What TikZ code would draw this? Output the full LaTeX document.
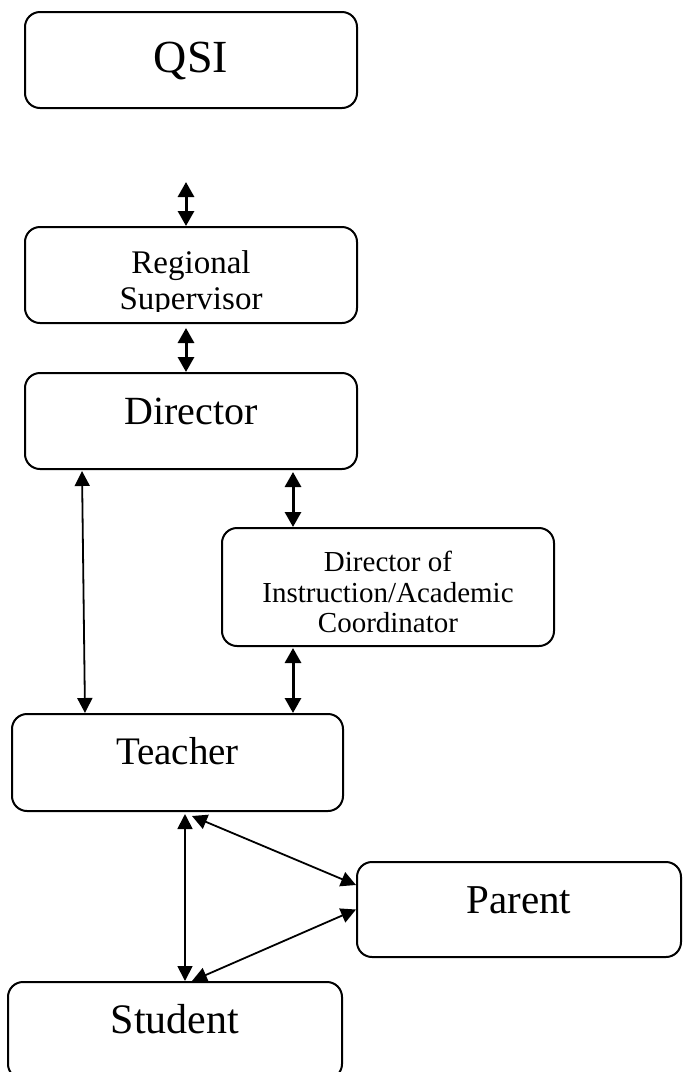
\documentclass[tikz,border=0pt]{standalone}
\usepackage{fontspec}
\setmainfont{Liberation Serif}
\usetikzlibrary{arrows.meta}
\begin{document}
\begin{tikzpicture}[x=1pt,y=-1pt,>={Triangle[length=15pt,width=15pt]}]
\tikzstyle{every node}+=[inner sep=0pt]
\tikzstyle{box}=[draw,line width=2pt,rounded corners=15pt,minimum width=332pt,minimum height=96pt,text depth=20pt]
\tikzstyle{link}=[<->,line width=1.8pt]
\tikzstyle{shortlink}=[<->,line width=3pt,>={Triangle[length=15pt,width=16pt]}]
\useasboundingbox (0,0) rectangle (683,1072);
\clip (0,0) rectangle (683,1072);
\node[box,font=\fontsize{46pt}{48pt}\selectfont,text height=30.5pt,text depth=6pt] (qsi) at (191,60) {QSI};
\node[box,path picture={
  \clip ([yshift=12pt]path picture bounding box.south west) rectangle (path picture bounding box.north east);
  \node[font=\fontsize{33pt}{36pt}\selectfont,align=center] (regionaltext) at ([yshift=-15pt]path picture bounding box.center) {Regional\\Supervisor};
}] (regional) at (191,275) {};
\node[box,font=\fontsize{40pt}{42pt}\selectfont,text height=26.5pt] (director) at (191,421) {Director};
\node[box,minimum height=118pt] (doi) at (388,587) {};
\node[font=\fontsize{29pt}{30.5pt}\selectfont,align=center] (doitext) at ([yshift=-5pt]doi.center) {Director of\\Instruction/Academic\\Coordinator};
\node[box,minimum width=331pt,minimum height=97pt,font=\fontsize{39pt}{41pt}\selectfont,text height=25.8pt,text depth=21pt] (teacher) at (177.5,762.5) {Teacher};
\node[box,minimum width=324pt,minimum height=95pt,font=\fontsize{41pt}{43pt}\selectfont,text height=27.1pt,text depth=19pt] (parent) at (519,909.5) {Parent};
\node[box,minimum width=334pt,minimum height=97pt,font=\fontsize{42pt}{44pt}\selectfont,text height=27.8pt,text depth=22pt] (student) at (175,1030.5) {Student};
\coordinate (qsiend) at (186,182);
\coordinate (doitop) at ([xshift=-95pt]doi.north);
\coordinate (doibottom) at ([xshift=-95pt]doi.south);
\draw[shortlink] (qsiend) -- (qsiend |- regional.north);
\draw[shortlink] ([xshift=-5pt,yshift=-4pt]regional.south) -- ([xshift=-5pt]director.north);
\draw[shortlink,shorten <=2pt] (doitop |- director.south) -- (doitop);
\draw[shortlink,shorten <=1pt] (doibottom) -- (doibottom |- teacher.north);
\draw[link,shorten <=1pt] ([xshift=-109pt]director.south) -- ([xshift=-92.5pt]teacher.north);
\draw[link,shorten <=2pt] ([xshift=7.5pt]teacher.south) -- ([xshift=10pt]student.north);
\draw[link] ([xshift=14.5pt,yshift=-4pt]teacher.south) -- ([yshift=24.5pt]parent.west);
\draw[link] (parent.west) -- ([xshift=17pt]student.north);
\end{tikzpicture}
\end{document}
